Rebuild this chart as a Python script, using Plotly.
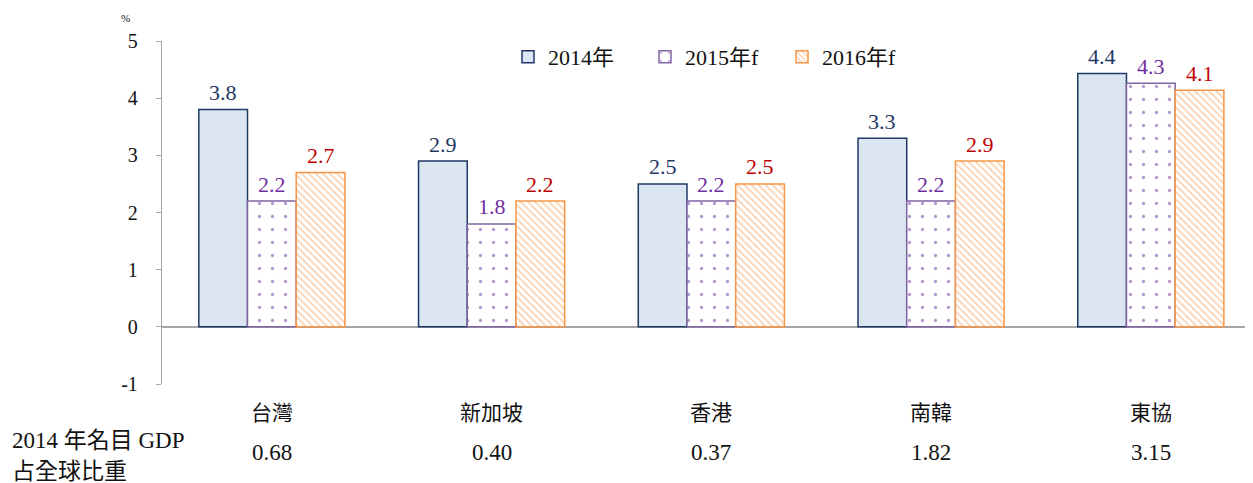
import plotly.graph_objects as go

categories = ["台灣", "新加坡", "香港", "南韓", "東協"]
gdp_share = ["0.68", "0.40", "0.37", "1.82", "3.15"]
series_names = ["2014年", "2015年f", "2016年f"]
v2014 = [3.8, 2.9, 2.5, 3.3, 4.43]
v2015 = [2.2, 1.8, 2.2, 2.2, 4.26]
v2016 = [2.7, 2.2, 2.5, 2.9, 4.14]
y_ticks = [-1, 0, 1, 2, 3, 4, 5]
y_ticktext = ["-1", "0", "1", "2", "3", "4", "5"]

SERIF = "Liberation Serif, Times New Roman, Noto Sans CJK TC, serif"
label_colors = ["#1F3864", "#7030A0", "#C00000"]
xs = list(range(len(categories)))

BARGAP = 0.335
n_series = 3
bar_w = (1 - BARGAP) / n_series

fig = go.Figure()
fig.add_trace(go.Bar(
    x=xs, y=v2014, name=series_names[0],
    marker=dict(color="#DCE6F2", line=dict(color="#1F3864", width=1.5)),
))
fig.add_trace(go.Bar(
    x=xs, y=v2015, name=series_names[1],
    marker=dict(color="white", line=dict(color="#8064A2", width=1.5),
                pattern=dict(shape=".", fgcolor="#7030A0", bgcolor="white",
                             size=13, solidity=0.05, fillmode="overlay")),
))
fig.add_trace(go.Bar(
    x=xs, y=v2016, name=series_names[2],
    marker=dict(color="white", line=dict(color="#F79646", width=1.5),
                pattern=dict(shape="\\", fgcolor="#F9A86A", bgcolor="white",
                             size=5, solidity=0.35, fillmode="overlay")),
))

annotations = []
# value labels above bars
for k, vals in enumerate([v2014, v2015, v2016]):
    for i, v in enumerate(vals):
        annotations.append(dict(x=i + (k - 1) * bar_w, y=v, xref="x", yref="y",
                                text=f"{v:.1f}", showarrow=False, yshift=17,
                                xanchor="center", yanchor="middle",
                                font=dict(family=SERIF, size=22, color=label_colors[k])))

# offset: page body margin of 8px in the browser
OFF = 8
W, H = 1253 - OFF, 483 - OFF
L, T, B = 162 - OFF, 41 - OFF, 99
pw, ph = W - L, H - T - B

def px(x, y):
    return (x - OFF - L) / pw, (H - B - (y - OFF)) / ph

for i, (c, g) in enumerate(zip(categories, gdp_share)):
    annotations.append(dict(x=i, y=px(0, 413)[1], xref="x", yref="paper", text=c,
                            showarrow=False, font=dict(family=SERIF, size=21, color="#111"),
                            xanchor="center", yanchor="middle"))
    annotations.append(dict(x=i, y=px(0, 452)[1], xref="x", yref="paper", text=g,
                            showarrow=False, font=dict(family=SERIF, size=23, color="#111"),
                            xanchor="center", yanchor="middle"))
for txt, (x, y), sz in [("2014 年名目 GDP", (10, 440), 23), ("占全球比重", (10, 471), 23)]:
    ax, ay = px(x, y)
    annotations.append(dict(x=ax, y=ay, xref="paper", yref="paper", text=txt,
                            showarrow=False, font=dict(family=SERIF, size=sz, color="#111"),
                            xanchor="left", yanchor="middle"))
ax, ay = px(125, 18)
annotations.append(dict(x=ax, y=ay, xref="paper", yref="paper", text="%",
                        showarrow=False, font=dict(family=SERIF, size=11, color="#111"),
                        xanchor="center", yanchor="middle"))

lx, ly = px(508, 36)

fig.update_layout(
    width=W, height=H,
    margin=dict(l=L, r=0, t=T, b=B),
    plot_bgcolor="white", paper_bgcolor="white",
    barmode="group", bargap=BARGAP, bargroupgap=0,
    font=dict(family=SERIF, color="#111"),
    showlegend=True,
    legend=dict(orientation="h", x=lx, y=ly, xanchor="left", yanchor="top",
                font=dict(family=SERIF, size=22, color="#111"),
                bgcolor="rgba(0,0,0,0)", entrywidth=92, itemwidth=30),
    xaxis=dict(range=[-0.5, 4.465], showticklabels=False, showline=False,
               showgrid=False, zeroline=False, ticks=""),
    yaxis=dict(range=[-1, 5], tickvals=y_ticks, ticktext=y_ticktext, showgrid=False,
               showline=True, linecolor="#A6A6A6", linewidth=1.3,
               ticks="outside", ticklen=5, tickcolor="#A6A6A6",
               tickfont=dict(family=SERIF, size=20, color="#111"),
               ticklabelstandoff=14,
               zeroline=True, zerolinecolor="#A6A6A6", zerolinewidth=1.5),
    annotations=annotations,
)

fig.write_html("out.html")
